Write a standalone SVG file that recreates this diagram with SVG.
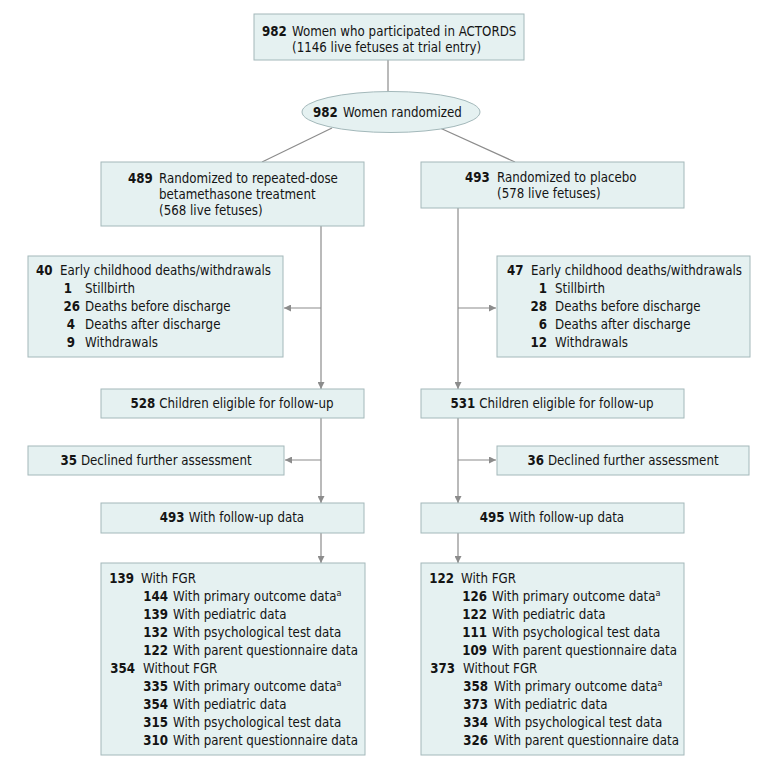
<svg xmlns="http://www.w3.org/2000/svg" width="780" height="769" viewBox="0 0 780 769">
<style>
.box{fill:#e5f1f1;stroke:#a3b8ba;stroke-width:1}
.t{font-family:"DejaVu Sans Condensed","DejaVu Sans",sans-serif;font-stretch:condensed;font-size:13.2px;fill:#141414}
.b{font-weight:bold}
.e{text-anchor:end}
.m{text-anchor:middle}
.ln{stroke:#8c8c8c;stroke-width:1.2;fill:none}
.sup{font-size:9px}
</style>
<defs>
<marker id="ar" viewBox="0 0 10 10" refX="10" refY="5" markerWidth="7" markerHeight="7" markerUnits="userSpaceOnUse" orient="auto">
<path d="M0,0 L10,5 L0,10 z" fill="#8c8c8c"/>
</marker>
</defs>
<rect width="780" height="769" fill="#ffffff"/>
<g id="connectors">
<line class="ln" x1="388" y1="60" x2="388" y2="92"/>
<line class="ln" x1="332" y1="128" x2="262" y2="162"/>
<line class="ln" x1="440" y1="128" x2="515" y2="162"/>
<line class="ln" x1="321" y1="226" x2="321" y2="389" marker-end="url(#ar)"/>
<line class="ln" x1="321" y1="308" x2="284" y2="308" marker-end="url(#ar)"/>
<line class="ln" x1="321" y1="418" x2="321" y2="503" marker-end="url(#ar)"/>
<line class="ln" x1="321" y1="460" x2="285" y2="460" marker-end="url(#ar)"/>
<line class="ln" x1="321" y1="533" x2="321" y2="563" marker-end="url(#ar)"/>
<line class="ln" x1="458" y1="208" x2="458" y2="389" marker-end="url(#ar)"/>
<line class="ln" x1="458" y1="308" x2="496" y2="308" marker-end="url(#ar)"/>
<line class="ln" x1="458" y1="418" x2="458" y2="503" marker-end="url(#ar)"/>
<line class="ln" x1="458" y1="460" x2="496" y2="460" marker-end="url(#ar)"/>
<line class="ln" x1="458" y1="533" x2="458" y2="563" marker-end="url(#ar)"/>
</g>
<g id="n-participated">
<rect class="box" x="254" y="14" width="270" height="46"/>
<text class="t b" x="262" y="36">982</text>
<text class="t" x="292" y="36">Women who participated in ACTORDS</text>
<text class="t" x="292" y="52">(1146 live fetuses at trial entry)</text>
</g>
<g id="n-randomized">
<ellipse class="box" cx="391" cy="112" rx="89" ry="20.5"/>
<text class="t b" x="313" y="117">982</text>
<text class="t" x="343" y="117">Women randomized</text>
</g>
<g id="n-betamethasone">
<rect class="box" x="101" y="162" width="263" height="64"/>
<text class="t b" x="128" y="183">489</text>
<text class="t" x="159" y="183">Randomized to repeated-dose</text>
<text class="t" x="159" y="199">betamethasone treatment</text>
<text class="t" x="159" y="215">(568 live fetuses)</text>
</g>
<g id="n-placebo">
<rect class="box" x="421" y="162" width="263" height="46"/>
<text class="t b" x="465" y="182">493</text>
<text class="t" x="497" y="182">Randomized to placebo</text>
<text class="t" x="497" y="198">(578 live fetuses)</text>
</g>
<g id="n-deaths-left">
<rect class="box" x="28" y="256" width="255" height="101"/>
<text class="t b" x="36" y="275">40</text>
<text class="t" x="60" y="275">Early childhood deaths/withdrawals</text>
<text class="t b e" x="72" y="293">1</text>
<text class="t" x="85" y="293">Stillbirth</text>
<text class="t b e" x="80" y="311">26</text>
<text class="t" x="85" y="311">Deaths before discharge</text>
<text class="t b e" x="75" y="329">4</text>
<text class="t" x="85" y="329">Deaths after discharge</text>
<text class="t b e" x="75" y="347">9</text>
<text class="t" x="85" y="347">Withdrawals</text>
</g>
<g id="n-deaths-right">
<rect class="box" x="497" y="256" width="253" height="101"/>
<text class="t b" x="507" y="275">47</text>
<text class="t" x="531" y="275">Early childhood deaths/withdrawals</text>
<text class="t b e" x="547" y="293">1</text>
<text class="t" x="555" y="293">Stillbirth</text>
<text class="t b e" x="547" y="311">28</text>
<text class="t" x="555" y="311">Deaths before discharge</text>
<text class="t b e" x="547" y="329">6</text>
<text class="t" x="555" y="329">Deaths after discharge</text>
<text class="t b e" x="547" y="347">12</text>
<text class="t" x="555" y="347">Withdrawals</text>
</g>
<g id="n-eligible-left">
<rect class="box" x="101" y="389" width="263" height="29"/>
<text class="t m" x="232" y="408"><tspan class="b">528</tspan><tspan dx="4">Children eligible for follow-up</tspan></text>
</g>
<g id="n-eligible-right">
<rect class="box" x="421" y="389" width="263" height="29"/>
<text class="t m" x="552" y="408"><tspan class="b">531</tspan><tspan dx="4">Children eligible for follow-up</tspan></text>
</g>
<g id="n-declined-left">
<rect class="box" x="28" y="446" width="256" height="29"/>
<text class="t m" x="156" y="465"><tspan class="b">35</tspan><tspan dx="4">Declined further assessment</tspan></text>
</g>
<g id="n-declined-right">
<rect class="box" x="497" y="446" width="252" height="29"/>
<text class="t m" x="623" y="465"><tspan class="b">36</tspan><tspan dx="4">Declined further assessment</tspan></text>
</g>
<g id="n-followup-left">
<rect class="box" x="101" y="503" width="263" height="30"/>
<text class="t m" x="232" y="522"><tspan class="b">493</tspan><tspan dx="4">With follow-up data</tspan></text>
</g>
<g id="n-followup-right">
<rect class="box" x="421" y="503" width="263" height="30"/>
<text class="t m" x="552" y="522"><tspan class="b">495</tspan><tspan dx="4">With follow-up data</tspan></text>
</g>
<g id="n-outcomes-left">
<rect class="box" x="101" y="563" width="264" height="192"/>
<text class="t b e" x="134" y="583">139</text>
<text class="t" x="141" y="583">With FGR</text>
<text class="t b e" x="168" y="601">144</text>
<text class="t" x="173" y="601">With primary outcome data<tspan class="sup" dy="-5">a</tspan></text>
<text class="t b e" x="168" y="619">139</text>
<text class="t" x="173" y="619">With pediatric data</text>
<text class="t b e" x="168" y="637">132</text>
<text class="t" x="173" y="637">With psychological test data</text>
<text class="t b e" x="168" y="655">122</text>
<text class="t" x="173" y="655">With parent questionnaire data</text>
<text class="t b e" x="135" y="673">354</text>
<text class="t" x="143" y="673">Without FGR</text>
<text class="t b e" x="168" y="691">335</text>
<text class="t" x="173" y="691">With primary outcome data<tspan class="sup" dy="-5">a</tspan></text>
<text class="t b e" x="168" y="709">354</text>
<text class="t" x="173" y="709">With pediatric data</text>
<text class="t b e" x="168" y="727">315</text>
<text class="t" x="173" y="727">With psychological test data</text>
<text class="t b e" x="168" y="745">310</text>
<text class="t" x="173" y="745">With parent questionnaire data</text>
</g>
<g id="n-outcomes-right">
<rect class="box" x="421" y="563" width="263" height="192"/>
<text class="t b e" x="454" y="583">122</text>
<text class="t" x="461" y="583">With FGR</text>
<text class="t b e" x="487" y="601">126</text>
<text class="t" x="492" y="601">With primary outcome data<tspan class="sup" dy="-5">a</tspan></text>
<text class="t b e" x="487" y="619">122</text>
<text class="t" x="492" y="619">With pediatric data</text>
<text class="t b e" x="487" y="637">111</text>
<text class="t" x="492" y="637">With psychological test data</text>
<text class="t b e" x="487" y="655">109</text>
<text class="t" x="492" y="655">With parent questionnaire data</text>
<text class="t b e" x="455" y="673">373</text>
<text class="t" x="463" y="673">Without FGR</text>
<text class="t b e" x="488" y="691">358</text>
<text class="t" x="494" y="691">With primary outcome data<tspan class="sup" dy="-5">a</tspan></text>
<text class="t b e" x="488" y="709">373</text>
<text class="t" x="494" y="709">With pediatric data</text>
<text class="t b e" x="488" y="727">334</text>
<text class="t" x="494" y="727">With psychological test data</text>
<text class="t b e" x="488" y="745">326</text>
<text class="t" x="494" y="745">With parent questionnaire data</text>
</g>
</svg>
